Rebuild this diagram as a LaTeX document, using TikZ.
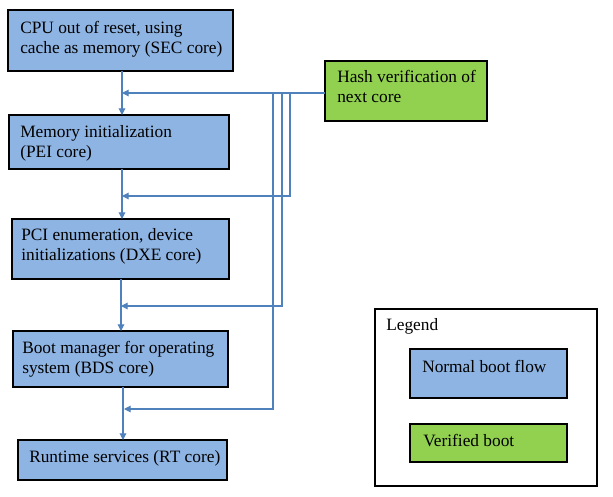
\documentclass[tikz,border=0pt]{standalone}
\usepackage{fontspec}
\setmainfont{Liberation Serif}
\usetikzlibrary{arrows.meta}
\definecolor{bfill}{HTML}{8EB4E3}
\definecolor{gfill}{HTML}{92D050}
\definecolor{lcol}{HTML}{4F81BD}
\begin{document}
\begin{tikzpicture}[x=0.75pt,y=-0.75pt,
  bx/.style={draw=black,line width=0.9pt,inner sep=0pt,outer sep=0pt},
  blu/.style={bx,fill=bfill},
  grn/.style={bx,fill=gfill},
  txt/.style={anchor=base west,inner sep=0pt,font=\fontsize{13pt}{15pt}\selectfont,align=left},
  arr/.style={draw=lcol,line width=0.8pt,-{Triangle[length=5pt,width=5pt]}},
  ln/.style={draw=lcol,line width=0.8pt}]
\useasboundingbox[fill=white] (0,0) rectangle (613,496);
% boxes
\node[blu,minimum width=225*0.75pt,minimum height=61*0.75pt] (sec) at (120.5,40.5) {};
\node[blu,minimum width=220*0.75pt,minimum height=54*0.75pt] (pei) at (119,142) {};
\node[blu,minimum width=217*0.75pt,minimum height=60*0.75pt] (dxe) at (120.5,249) {};
\node[blu,minimum width=215*0.75pt,minimum height=56*0.75pt] (bds) at (120.5,359) {};
\node[blu,minimum width=209*0.75pt,minimum height=40*0.75pt] (rt) at (122.5,460) {};
\node[grn,minimum width=162*0.75pt,minimum height=60*0.75pt] (hash) at (406,91) {};
\node[bx,fill=white,minimum width=222*0.75pt,minimum height=177*0.75pt] (leg) at (486,397.5) {};
\node[blu,minimum width=157*0.75pt,minimum height=49*0.75pt] (nbf) at (488.5,373.5) {};
\node[grn,minimum width=157*0.75pt,minimum height=38*0.75pt] (vb) at (488.5,443) {};
% texts (base = baseline of last line)
\node[txt] (tsec) at (20,53) {CPU out of reset, using\\cache as memory (SEC core)};
\node[txt] (tpei) at (20,157) {Memory initialization\\(PEI core)};
\node[txt] (tdxe) at (21,260) {PCI enumeration, device\\initializations (DXE core)};
\node[txt] (tbds) at (22,373) {Boot manager for operating\\system (BDS core)};
\node[txt] (trt) at (29,462) {Runtime services (RT core)};
\node[txt] (thash) at (337,102) {Hash verification of\\next core};
\node[txt] (tleg) at (386,330) {Legend};
\node[txt] (tnbf) at (422,372) {Normal boot flow};
\node[txt] (tvb) at (423,446) {Verified boot};
% coordinates
\coordinate (x1) at (122,0);
\coordinate (x2) at (122,0);
\coordinate (x3) at (121,0);
\coordinate (x4) at (123,0);
\coordinate (h0) at (hash.west |- 0,93);
\coordinate (j1) at (122,93);
\coordinate (v1) at (290,93);
\coordinate (v2) at (282,93);
\coordinate (v3) at (273,93);
\coordinate (j2) at (122,196);
\coordinate (j3) at (121,306);
\coordinate (j4) at (124,409);
% main arrows
\draw[arr] (sec.south -| x1) -- (pei.north -| x1);
\draw[arr] (pei.south -| x2) -- (dxe.north -| x2);
\draw[arr] (dxe.south -| x3) -- (bds.north -| x3);
\draw[arr] (bds.south -| x4) -- (rt.north -| x4);
% verification feeds
\draw[arr] (h0) -- (j1);
\draw[ln,line width=1.2pt] (v3) -- (v1);
\draw[arr] (v1) -- (v1 |- j2) -- (j2);
\draw[arr] (v2) -- (v2 |- j3) -- (j3);
\draw[arr] (v3) -- (v3 |- j4) -- (j4);
\end{tikzpicture}
\end{document}
